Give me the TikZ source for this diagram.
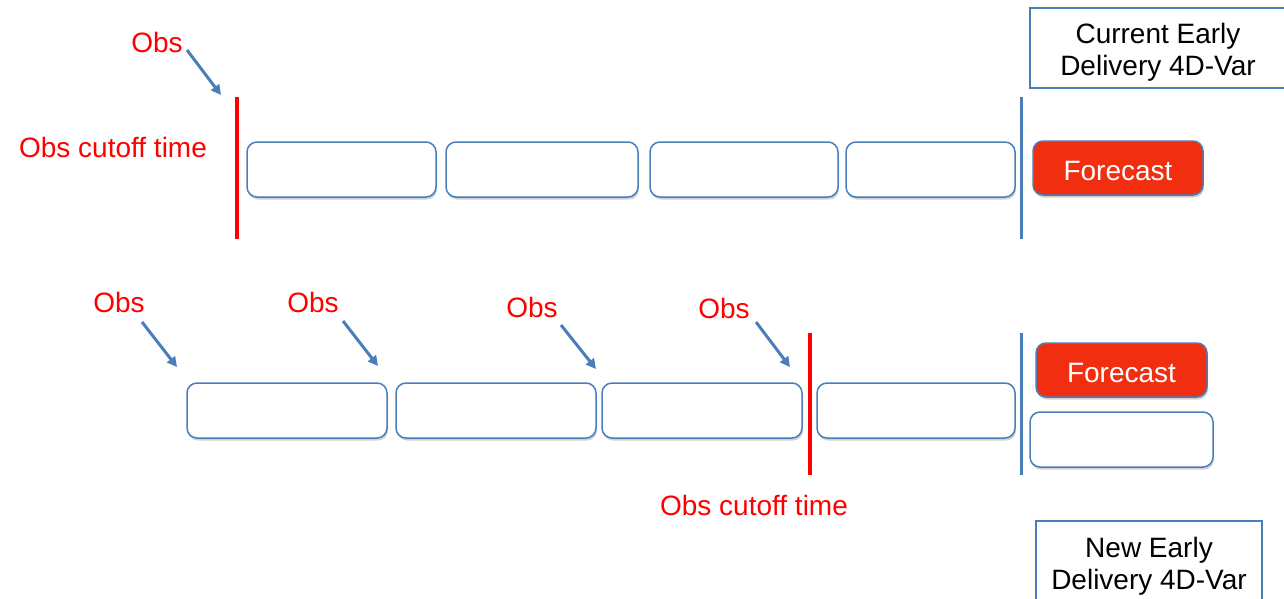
\documentclass[tikz,border=0pt]{standalone}
\usepackage{fontspec}
\setmainfont{Liberation Sans}
\usetikzlibrary{arrows.meta,shadows}

\definecolor{frameblue}{RGB}{74,126,187}
\definecolor{fcred}{RGB}{242,46,16}
\definecolor{labelred}{RGB}{255,0,0}

% two centred lines, set slightly low in their frame
\newcommand{\twolines}[2]{\raisebox{0pt}[\dimexpr\height+10pt\relax]{\begin{tabular}{@{}c@{}}#1\\#2\end{tabular}}}

\tikzset{
  txt/.style={font=\fontsize{28}{32}\selectfont, inner sep=0pt},
  redlabel/.style={txt, text=labelred},
  cyclebox/.style={draw=frameblue, line width=1.5pt, rounded corners=10pt, fill=white,
    inner sep=0pt, minimum height=55pt,
    drop shadow={shadow xshift=1pt, shadow yshift=-2.5pt, opacity=0.18, fill=black}},
  fcbox/.style={cyclebox, fill=fcred, text=white, font=\fontsize{28}{32}\selectfont,
    minimum height=54pt, text height=24pt, text depth=0pt},
  titlebox/.style={draw=frameblue, line width=1.2pt, fill=white,
    font=\fontsize{28}{32}\selectfont, inner sep=0pt},
  cutoff/.style={draw=labelred, line width=4pt},
  boundary/.style={draw=frameblue, line width=3pt},
  obsarrow/.style={draw=frameblue, line width=3pt, -{Triangle[length=10pt,width=10pt]}}
}

\begin{document}
\begin{tikzpicture}[x=1pt,y=-1pt]
\useasboundingbox (0,0) rectangle (1284,598);

% ---------- current early delivery ----------
\node[titlebox, minimum width=256pt, minimum height=80pt] (curtitle) at (1158,48)
  {\twolines{Current Early}{Delivery 4D-Var}};

\node[redlabel] (obsA) at (157,42) {Obs};
\node[redlabel] (cutA) at (113,147) {Obs cutoff time};

\coordinate (cutAtop) at (237,97);
\coordinate (cutAbot) at (237,239);
\draw[cutoff] (cutAtop) -- (cutAbot);

\coordinate (obsAs) at (187,50);
\coordinate (obsAe) at (221,95);
\draw[obsarrow] (obsAs) -- (obsAe);

\node[cyclebox, minimum width=189pt] (t1) at (341.5,169.5) {};
\node[cyclebox, minimum width=192pt] (t2) at (542,169.5) {};
\node[cyclebox, minimum width=188pt] (t3) at (744,169.5) {};
\node[cyclebox, minimum width=169pt] (t4) at (930.5,169.5) {};

\coordinate (endAtop) at (1021,97);
\coordinate (endAbot) at (1021,239);
\draw[boundary] (endAtop) -- (endAbot);

\node[fcbox, minimum width=170pt] (fcA) at (1118,168) {Forecast};

% ---------- new early delivery ----------
\node[redlabel] (obsB1) at (119,302) {Obs};
\node[redlabel] (obsB2) at (313,302) {Obs};
\node[redlabel] (obsB3) at (532,307) {Obs};
\node[redlabel] (obsB4) at (724,308) {Obs};

\coordinate (obsB1s) at (142,322);
\coordinate (obsB1e) at (177,367);
\coordinate (obsB2s) at (343,321);
\coordinate (obsB2e) at (378,366);
\coordinate (obsB3s) at (561,325);
\coordinate (obsB3e) at (596,369);
\coordinate (obsB4s) at (756,322);
\coordinate (obsB4e) at (790,367);
\draw[obsarrow] (obsB1s) -- (obsB1e);
\draw[obsarrow] (obsB2s) -- (obsB2e);
\draw[obsarrow] (obsB3s) -- (obsB3e);
\draw[obsarrow] (obsB4s) -- (obsB4e);

\node[cyclebox, minimum width=200pt] (b1) at (287,410.5) {};
\node[cyclebox, minimum width=200pt] (b2) at (496,410.5) {};
\node[cyclebox, minimum width=200pt] (b3) at (702,410.5) {};
\node[cyclebox, minimum width=198pt] (b4) at (916,410.5) {};

\coordinate (cutBtop) at (810,333);
\coordinate (cutBbot) at (810,475);
\draw[cutoff] (cutBtop) -- (cutBbot);
\node[redlabel] (cutB) at (754,505) {Obs cutoff time};

\coordinate (endBtop) at (1021,333);
\coordinate (endBbot) at (1021,475);
\draw[boundary] (endBtop) -- (endBbot);

\node[fcbox, minimum width=171pt] (fcB) at (1121.5,370) {Forecast};
\node[cyclebox, minimum width=183pt] (nextB) at (1121.5,439.5) {};

\node[titlebox, minimum width=226pt, minimum height=82pt] (newtitle) at (1149,562)
  {\twolines{New Early}{Delivery 4D-Var}};
\end{tikzpicture}
\end{document}
